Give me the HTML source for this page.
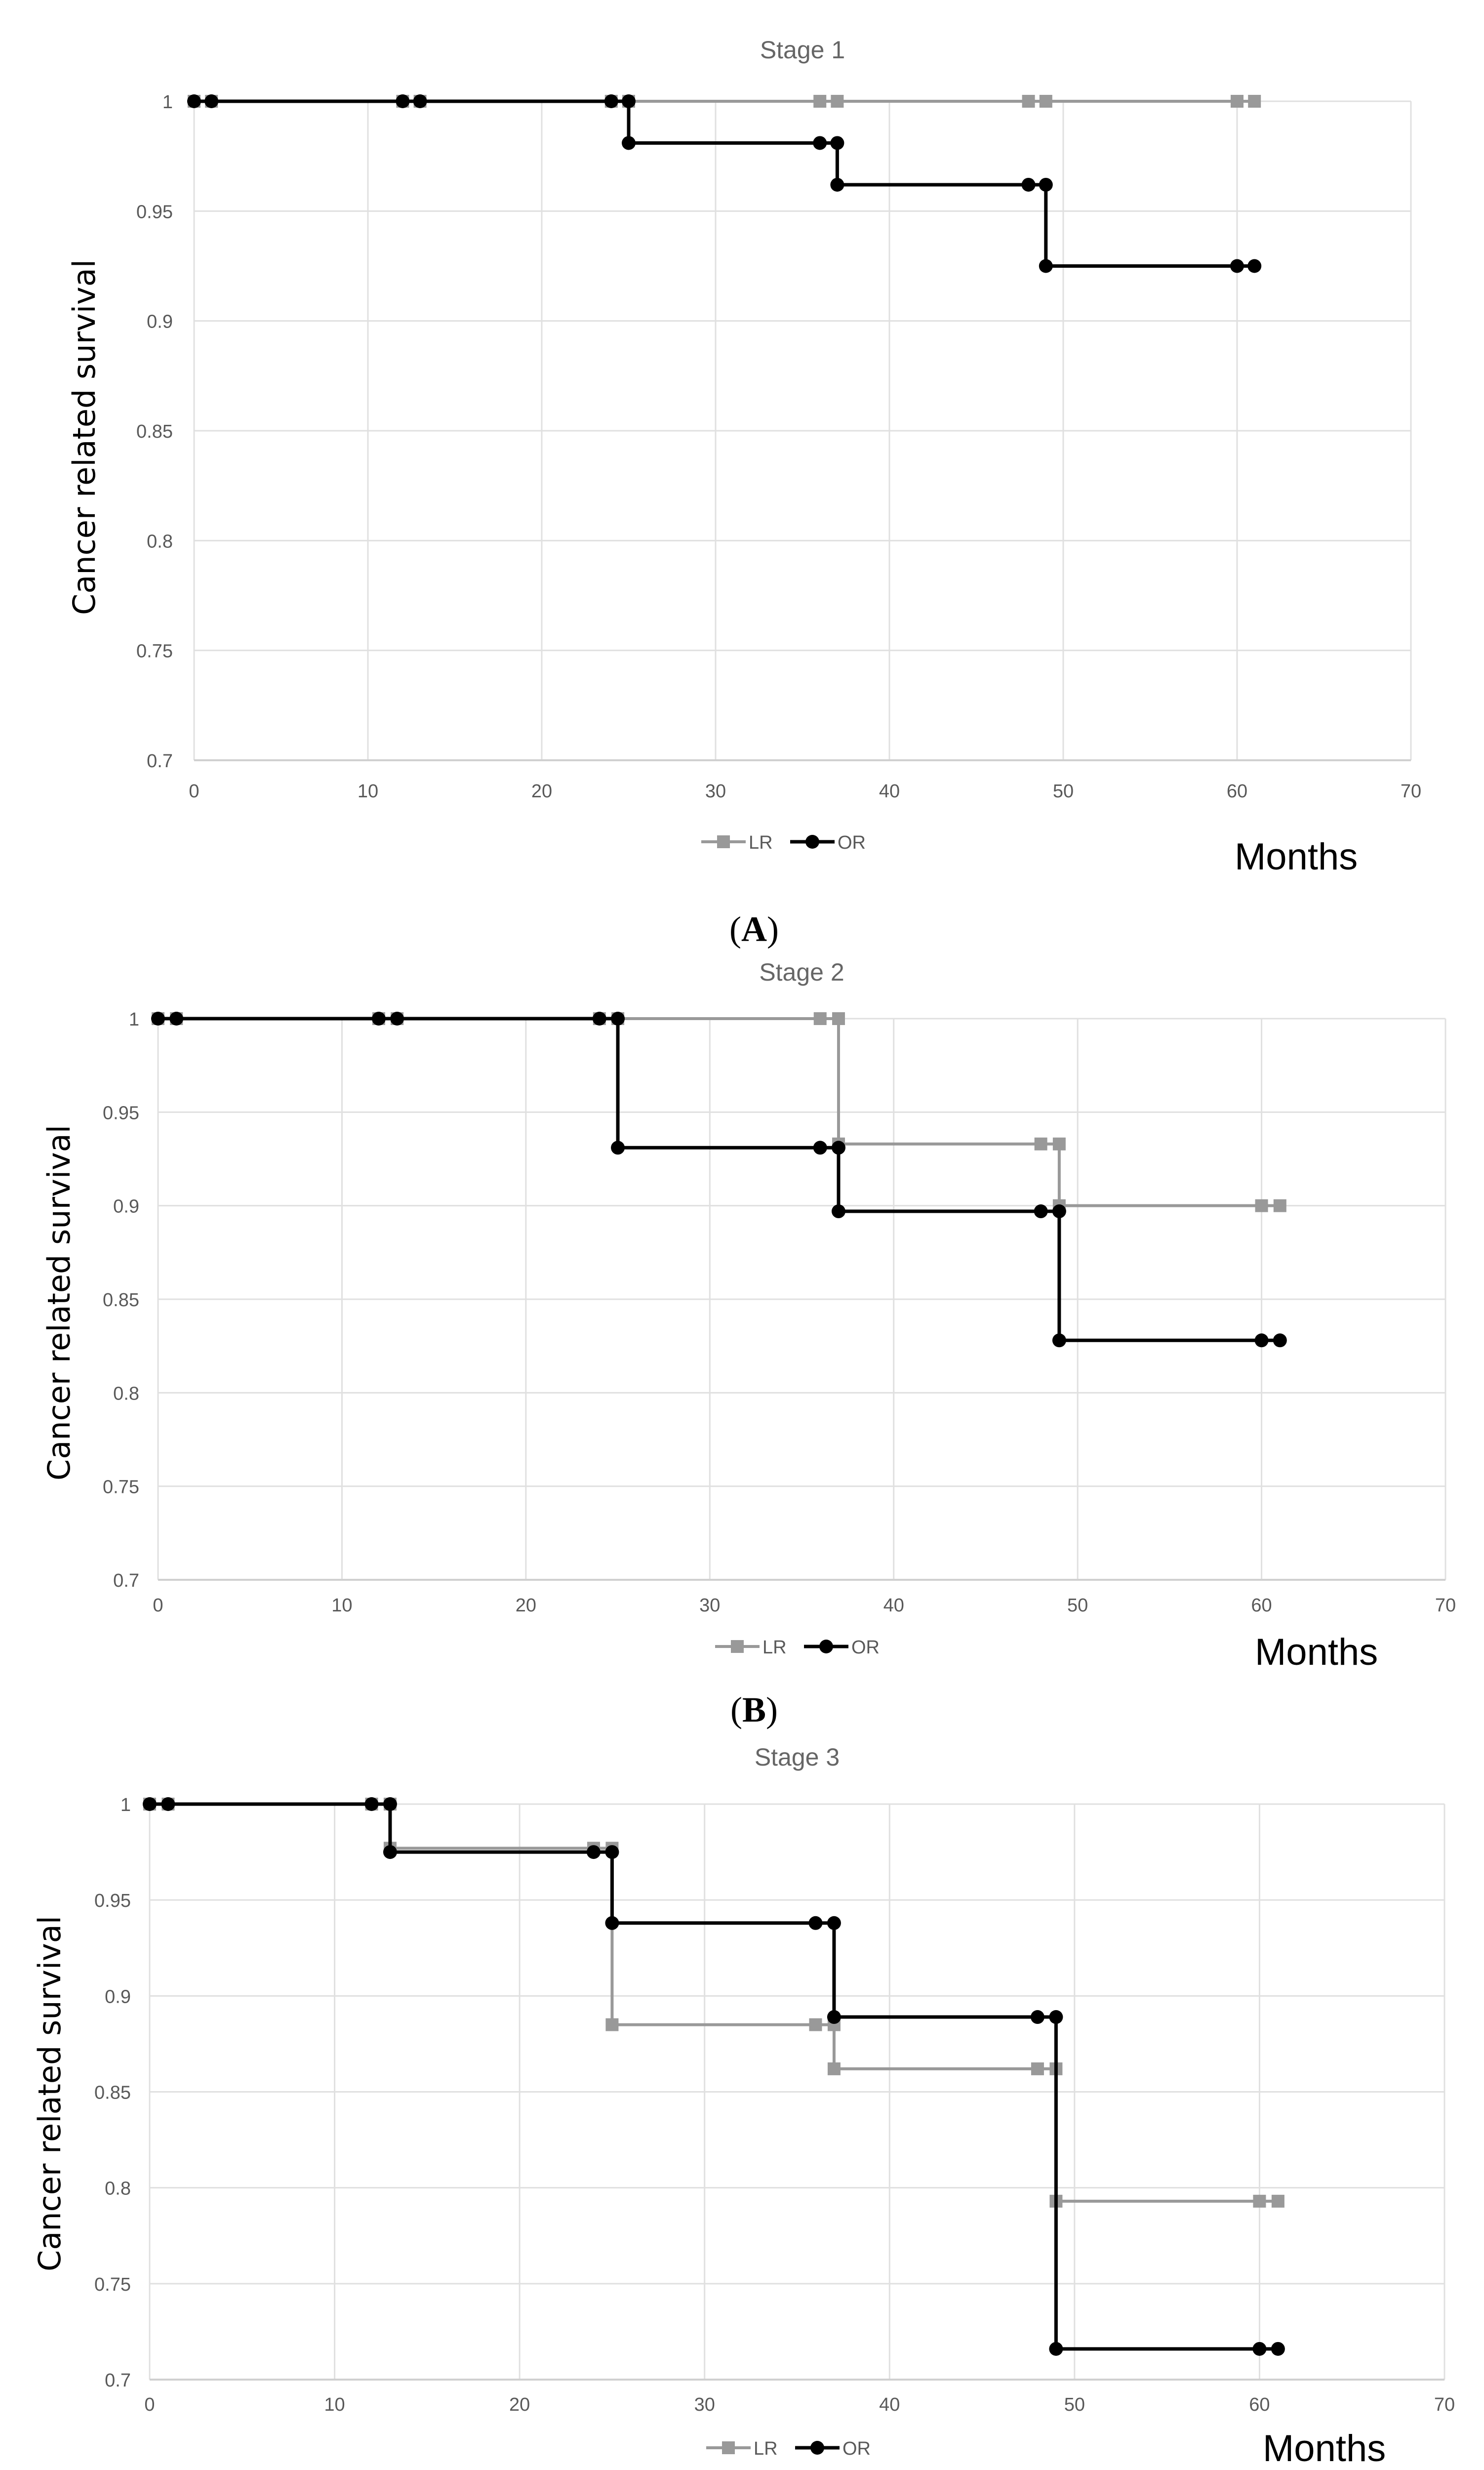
<!DOCTYPE html>
<html><head><meta charset="utf-8">
<style>
html,body{margin:0;padding:0;background:#fff;width:3005px;height:5165px;overflow:hidden;}
svg{display:block;position:absolute;left:0;top:0;}
</style></head>
<body>
<svg id="fig" width="3005" height="5165" viewBox="0 0 3005 5165" xmlns="http://www.w3.org/2000/svg"></svg>
<script>
// ---- data ----
const xTicks = [0,10,20,30,40,50,60,70];
const yTicks = [0.7,0.75,0.8,0.85,0.9,0.95,1];
const yTickLabels = ["0.7","0.75","0.8","0.85","0.9","0.95","1"];
const panelTitles = ["Stage 1","Stage 2","Stage 3"];
const panelLetters = ["A","B","C"];

const aLRx = [0,1,12,13,24,25,36,37,48,49,60,61];
const aLRy = [1,1,1,1,1,1,1,1,1,1,1,1];
const aORx = [0,1,12,13,24,25,25,36,37,37,48,49,49,60,61];
const aORy = [1,1,1,1,1,1,0.981,0.981,0.981,0.962,0.962,0.962,0.925,0.925,0.925];

const bLRx = [0,1,12,13,24,25,36,37,37,48,49,49,60,61];
const bLRy = [1,1,1,1,1,1,1,1,0.933,0.933,0.933,0.9,0.9,0.9];
const bORx = [0,1,12,13,24,25,25,36,37,37,48,49,49,60,61];
const bORy = [1,1,1,1,1,1,0.931,0.931,0.931,0.897,0.897,0.897,0.828,0.828,0.828];

const cLRx = [0,1,12,13,13,24,25,25,36,37,37,48,49,49,60,61];
const cLRy = [1,1,1,1,0.977,0.977,0.977,0.885,0.885,0.885,0.862,0.862,0.862,0.793,0.793,0.793];
const cORx = [0,1,12,13,13,24,25,25,36,37,37,48,49,49,60,61];
const cORy = [1,1,1,1,0.975,0.975,0.975,0.938,0.938,0.938,0.889,0.889,0.889,0.716,0.716,0.716];

// ---- layout ----
const panels = [
  {x0:393,x1:2857,yTop:205,yBot:1539,titleY:118,ylabX:350,xlabY:1614,ytitleX:170,ytitleY:885,legY:1704,legX:1420,monthsX:2500,monthsY:1760,letterY:1905,lr:[aLRx,aLRy],or:[aORx,aORy]},
  {x0:320,x1:2927,yTop:2062,yBot:3198,titleY:1985,ylabX:282,xlabY:3262,ytitleX:119,ytitleY:2637,legY:3333,legX:1448,monthsX:2541,monthsY:3370,letterY:3485,lr:[bLRx,bLRy],or:[bORx,bORy]},
  {x0:303,x1:2925,yTop:3652,yBot:4817,titleY:3574,ylabX:265,xlabY:4880,ytitleX:100,ytitleY:4238,legY:4955,legX:1430,monthsX:2557,monthsY:4982,letterY:5070,lr:[cLRx,cLRy],or:[cORx,cORy]}
];
const SANS = 'font-family:"Liberation Sans",sans-serif;';
const svg = document.getElementById('fig');
const NS = "http://www.w3.org/2000/svg";
function mk(tag, attrs, parent){const e=document.createElementNS(NS,tag);for(const k in attrs)e.setAttribute(k,attrs[k]);(parent||svg).appendChild(e);return e;}

panels.forEach((p,i)=>{
  const g = mk('g',{});
  
  
  const sx = v => p.x0 + (v-0)/(70-0)*(p.x1-p.x0);
  const sy = v => p.yBot - (v-0.7)/(1-0.7)*(p.yBot-p.yTop);
  const t = mk('text',{x:(p.x0+p.x1)/2,y:p.titleY,'text-anchor':'middle',style:SANS+'font-size:50px;fill:#666'},g);
  t.textContent = panelTitles[i];
  
  
  xTicks.forEach(v=>{
    const l=mk('line',{x1:sx(v),x2:sx(v),y1:p.yTop,y2:p.yBot,stroke:'#e0e0e0','stroke-width':3},g);
    
    
    const tl=mk('text',{x:sx(v),y:p.xlabY,'text-anchor':'middle',style:SANS+'font-size:38px;fill:#595959'},g);
    tl.textContent=String(v);
    
    
  });
  yTicks.forEach((v,k)=>{
    const l=mk('line',{x1:p.x0,x2:p.x1,y1:sy(v),y2:sy(v),stroke:'#e0e0e0','stroke-width':3},g);
    
    
    const tl=mk('text',{x:p.ylabX,y:sy(v)+14,'text-anchor':'end',style:SANS+'font-size:38px;fill:#595959'},g);
    tl.textContent=yTickLabels[k];
    
    
  });
  const ax=mk('line',{x1:p.x0,x2:p.x1,y1:p.yBot,y2:p.yBot,stroke:'#d0d0d0','stroke-width':4},g);
  
  
  function series(xs,ys,color,w,isCircle,name){
    const sg=mk('g',{},g);
    
    
    const pts=xs.map((x,j)=>sx(x)+','+sy(ys[j])).join(' ');
    const pl=mk('polyline',{points:pts,fill:'none',stroke:color,'stroke-width':w},sg);
    
    
    xs.forEach((x,j)=>{
      let m;
      if(isCircle) m=mk('circle',{cx:sx(x),cy:sy(ys[j]),r:14,fill:color},sg);
      else m=mk('rect',{x:sx(x)-13,y:sy(ys[j])-13,width:26,height:26,fill:color},sg);
      
      
    });
  }
  series(p.lr[0],p.lr[1],'#999999',6,false,'series-lr');
  series(p.or[0],p.or[1],'#000000',7,true,'series-or');
  const yt=mk('text',{x:p.ytitleX,y:p.ytitleY,'text-anchor':'middle',style:'font-family:"DejaVu Sans",sans-serif;font-size:62px;fill:#000',transform:`rotate(-90 ${p.ytitleX} ${p.ytitleY})`,dy:22},g);
  yt.textContent='Cancer related survival';
  
  
  const lg=mk('g',{},g);
  
  
  const L=p.legX, Y=p.legY;
  mk('line',{x1:L,x2:L+90,y1:Y,y2:Y,stroke:'#999','stroke-width':6},lg);
  mk('rect',{x:L+32,y:Y-13,width:26,height:26,fill:'#999'},lg);
  const l1=mk('text',{x:L+96,y:Y+14,style:SANS+'font-size:38px;fill:#595959'},lg);
  l1.textContent='LR';
  
  
  const L2=L+180;
  mk('line',{x1:L2,x2:L2+90,y1:Y,y2:Y,stroke:'#000','stroke-width':7},lg);
  mk('circle',{cx:L2+45,cy:Y,r:14,fill:'#000'},lg);
  const l2=mk('text',{x:L2+96,y:Y+14,style:SANS+'font-size:38px;fill:#595959'},lg);
  l2.textContent='OR';
  
  
  const mt=mk('text',{x:p.monthsX,y:p.monthsY,style:SANS+'font-size:76px;fill:#000'},g);
  mt.textContent='Months';
  
  
  const lt=mk('text',{x:1527,y:p.letterY,'text-anchor':'middle',style:'font-family:"Liberation Serif",serif;font-size:72px;fill:#000'},g);
  lt.innerHTML='(<tspan font-weight="bold">'+panelLetters[i]+'</tspan>)';
  
  
});
</script>
</body></html>
